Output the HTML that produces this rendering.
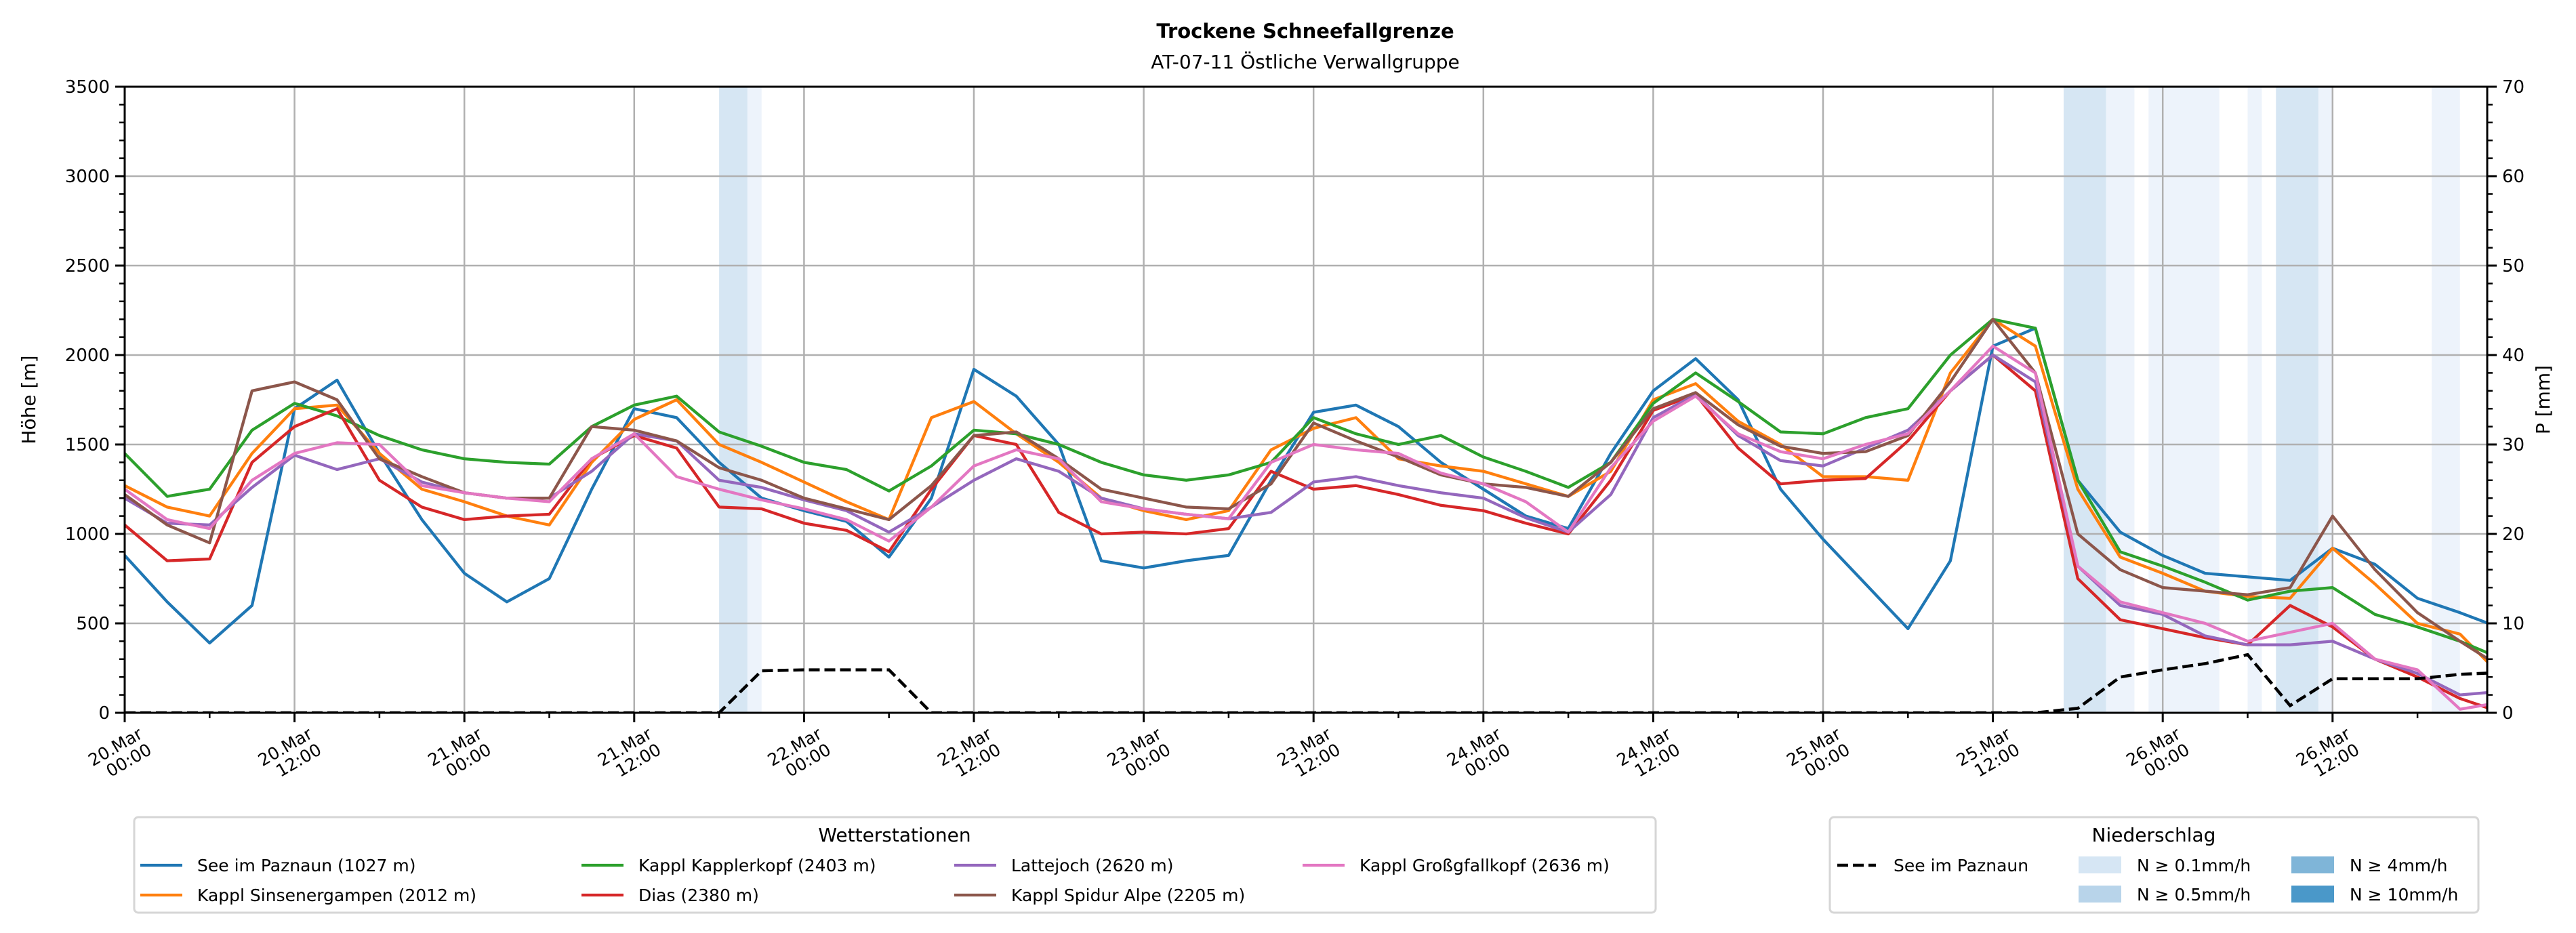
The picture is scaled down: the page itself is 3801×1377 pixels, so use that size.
<!DOCTYPE html>
<html><head><meta charset="utf-8">
<style>
html,body{margin:0;padding:0;background:#fff;}
svg{display:block;font-family:"DejaVu Sans","Liberation Sans",sans-serif;}
</style></head>
<body>
<svg id="chart" xmlns="http://www.w3.org/2000/svg" width="3801" height="1377" viewBox="0 0 3801 1377">
<rect width="3801" height="1377" fill="#fff"/>
<text x="1926" y="56" text-anchor="middle" font-size="29" font-weight="bold">Trockene Schneefallgrenze</text>
<text x="1926" y="101" text-anchor="middle" font-size="28">AT-07-11 Östliche Verwallgruppe</text>
<defs><clipPath id="plotclip"><rect x="184" y="128" width="3486" height="924"/></clipPath></defs>
<g id="bands" clip-path="url(#plotclip)"></g>
<g id="grid"></g>
<g id="series" clip-path="url(#plotclip)"></g>
<g id="axes"></g>
<text transform="translate(52,590) rotate(-90)" text-anchor="middle" font-size="28">Höhe [m]</text>
<text transform="translate(3762,590) rotate(-90)" text-anchor="middle" font-size="28">P [mm]</text>
<g>
<rect x="198" y="1206" width="2245" height="141" rx="6" fill="#fff" stroke="#d6d6d6" stroke-width="3"/>
<text x="1320" y="1242" text-anchor="middle" font-size="28">Wetterstationen</text>
<g id="leg1"></g>
</g>
<g>
<rect x="2700" y="1206" width="957" height="141" rx="6" fill="#fff" stroke="#d6d6d6" stroke-width="3"/>
<text x="3178" y="1242" text-anchor="middle" font-size="28">Niederschlag</text>
<line x1="2711" y1="1277" x2="2768" y2="1277" stroke="#000" stroke-width="4.5" stroke-dasharray="16,7"/>
<text x="2794" y="1286" font-size="25">See im Paznaun</text>
<rect x="3067" y="1264" width="63" height="25" fill="#d6e6f4"/>
<text x="3153" y="1286" font-size="25">N ≥ 0.1mm/h</text>
<rect x="3067" y="1307" width="63" height="25" fill="#b8d4ea"/>
<text x="3153" y="1329" font-size="25">N ≥ 0.5mm/h</text>
<rect x="3381" y="1264" width="63" height="25" fill="#7fb5d8"/>
<text x="3467" y="1286" font-size="25">N ≥ 4mm/h</text>
<rect x="3381" y="1307" width="63" height="25" fill="#4a98c9"/>
<text x="3467" y="1329" font-size="25">N ≥ 10mm/h</text>
</g>
</svg>
<script>
// data: 3-hourly values starting 20.Mar 00:00
const stepHours = 3;
const seeImPaznaun = [880,620,390,600,1700,1860,1450,1080,780,620,750,1250,1700,1650,1400,1200,1130,1070,870,1200,1920,1770,1500,850,810,850,880,1300,1680,1720,1600,1400,1250,1100,1030,1450,1800,1980,1750,1250,970,720,470,850,2050,2150,1300,1010,880,780,760,740,920,830,640,560,470];
const sinsenergampen = [1270,1150,1100,1450,1700,1720,1450,1250,1180,1100,1050,1400,1640,1750,1500,1400,1290,1180,1080,1650,1740,1560,1400,1200,1130,1080,1130,1470,1590,1650,1420,1380,1350,1280,1210,1350,1750,1840,1630,1500,1320,1320,1300,1900,2200,2050,1250,870,780,680,650,640,920,720,500,440,200];
const kapplerkopf = [1450,1210,1250,1580,1730,1660,1550,1470,1420,1400,1390,1600,1720,1770,1570,1490,1400,1360,1240,1380,1580,1560,1500,1400,1330,1300,1330,1400,1650,1560,1500,1550,1430,1350,1260,1400,1730,1900,1740,1570,1560,1650,1700,2000,2200,2150,1300,900,820,730,630,680,700,550,480,400,300];
const dias = [1050,850,860,1400,1600,1700,1300,1150,1080,1100,1110,1420,1550,1480,1150,1140,1060,1020,900,1250,1550,1500,1120,1000,1010,1000,1030,1350,1250,1270,1220,1160,1130,1060,1000,1300,1690,1780,1480,1280,1300,1310,1520,1800,2000,1800,750,520,470,420,380,600,480,300,200,80,0];
const lattejoch = [1200,1060,1050,1260,1440,1360,1420,1290,1230,1200,1200,1350,1560,1520,1300,1260,1190,1130,1010,1150,1300,1420,1350,1200,1140,1110,1085,1120,1290,1320,1270,1230,1200,1090,1010,1220,1650,1780,1550,1410,1380,1480,1580,1800,2000,1850,820,600,550,430,380,380,400,300,220,100,120];
const spidurAlpe = [1220,1050,950,1800,1850,1750,1420,1320,1230,1200,1200,1600,1580,1520,1370,1300,1200,1140,1080,1270,1550,1570,1420,1250,1200,1150,1140,1280,1620,1520,1430,1330,1280,1260,1210,1400,1700,1790,1610,1490,1450,1460,1550,1850,2200,1900,1000,800,700,680,660,700,1100,800,560,400,250];
const grossgfallkopf = [1250,1080,1030,1300,1450,1510,1500,1270,1230,1200,1180,1420,1560,1320,1250,1190,1140,1080,960,1150,1380,1470,1420,1180,1140,1110,1085,1400,1500,1470,1450,1340,1280,1180,1010,1370,1630,1770,1560,1460,1420,1500,1560,1800,2050,1900,820,620,560,500,400,450,500,300,240,20,60];
const precipSum = [0,0,0,0,0,0,0,0,0,0,0,0,0,0,0,4.7,4.8,4.8,4.8,0,0,0,0,0,0,0,0,0,0,0,0,0,0,0,0,0,0,0,0,0,0,0,0,0,0,0,0.5,4.0,4.8,5.5,6.5,0.8,3.8,3.8,3.8,4.3,4.5];
// precipitation bands: start hour, end hour, intensity class (0: >=0.1, 1: >=0.5)
const bandStart = [42,44,137,140,143,150,152,155,163];
const bandEnd   = [44,45,140,142,148,151,155,156,165];
const bandLevel = [1,0,1,0,0,0,1,0,0];
const yTicks = [0,500,1000,1500,2000,2500,3000,3500];
const y2Ticks = [0,10,20,30,40,50,60,70];
const xTickDays = ["20.Mar","20.Mar","21.Mar","21.Mar","22.Mar","22.Mar","23.Mar","23.Mar","24.Mar","24.Mar","25.Mar","25.Mar","26.Mar","26.Mar"];
const xTickTimes = ["00:00","12:00","00:00","12:00","00:00","12:00","00:00","12:00","00:00","12:00","00:00","12:00","00:00","12:00"];

const NS="http://www.w3.org/2000/svg";
const L=184,R=3670,T=128,B=1052;
const pxPerHour=250.6/12;
function xs(h){return L+h*pxPerHour;}
function ys(v){return B-(v/3500)*(B-T);}
function ys2(v){return B-(v/70)*(B-T);}
function mk(tag,attrs,parent){const e=document.createElementNS(NS,tag);for(const k in attrs)e.setAttribute(k,attrs[k]);parent.appendChild(e);return e;}

const bandsG=document.getElementById('bands');
const bandColors=["#edf3fb","#d6e6f3"];
bandStart.forEach((s,i)=>{
  const r=mk('rect',{x:xs(s),y:T,width:xs(bandEnd[i])-xs(s),height:B-T,fill:bandColors[bandLevel[i]]},bandsG);
  
  
});

const grid=document.getElementById('grid');
xTickDays.forEach((d,i)=>{
  const x=xs(i*12);
  const g=mk('line',{x1:x,y1:T,x2:x,y2:B,stroke:"#b0b0b0","stroke-width":2.5},grid);
  
  
});
yTicks.forEach(v=>{
  const y=ys(v);
  const g=mk('line',{x1:L,y1:y,x2:R,y2:y,stroke:"#b0b0b0","stroke-width":2.5},grid);
  
  
});

const series=document.getElementById('series');
const sets=[[seeImPaznaun,"#1f77b4","see-im-paznaun-line"],[sinsenergampen,"#ff7f0e","sinsenergampen-line"],[kapplerkopf,"#2ca02c","kapplerkopf-line"],[dias,"#d62728","dias-line"],[lattejoch,"#9467bd","lattejoch-line"],[spidurAlpe,"#8c564b","spidur-alpe-line"],[grossgfallkopf,"#e377c2","grossgfallkopf-line"]];
sets.forEach(s=>{
  const pts=s[0].map((v,i)=>xs(i*stepHours).toFixed(1)+","+ys(v).toFixed(1)).join(" ");
  const p=mk('polyline',{points:pts,fill:"none",stroke:s[1],"stroke-width":4.3,"stroke-linejoin":"round"},series);
  
  
});
const pp=precipSum.map((v,i)=>xs(i*stepHours).toFixed(1)+","+ys2(v).toFixed(1)).join(" ");
const pl=mk('polyline',{points:pp,fill:"none",stroke:"#000","stroke-width":4.5,"stroke-dasharray":"16,7"},series);



const axes=document.getElementById('axes');
mk('rect',{x:L,y:T,width:R-L,height:B-T,fill:"none",stroke:"#000","stroke-width":3},axes);
for(let v=0;v<=3500;v+=100){
  const y=ys(v),major=v%500===0;
  mk('line',{x1:L,y1:y,x2:L-(major?14:8),y2:y,stroke:"#000","stroke-width":major?3:2.5},axes);
}
yTicks.forEach(v=>{
  const t=mk('text',{x:L-22,y:ys(v)+9,"text-anchor":"end","font-size":26},axes);t.textContent=v;
  
  
});
for(let v=0;v<=70;v+=2){
  const y=ys2(v),major=v%10===0;
  mk('line',{x1:R,y1:y,x2:R+(major?14:8),y2:y,stroke:"#000","stroke-width":major?3:2.5},axes);
}
y2Ticks.forEach(v=>{
  const t=mk('text',{x:R+22,y:ys2(v)+9,"font-size":26},axes);t.textContent=v;
  
  
});
for(let h=0;h<=166;h+=6){
  const major=h%12===0;
  mk('line',{x1:xs(h),y1:B,x2:xs(h),y2:B+(major?14:8),stroke:"#000","stroke-width":major?3:2.5},axes);
}
xTickDays.forEach((d,i)=>{
  const x=xs(i*12);
  const t=mk('text',{transform:`translate(${x+28},${B+36}) rotate(-30)`,"text-anchor":"end","font-size":25},axes);
  
  
  const a=mk('tspan',{x:0,y:0},t);a.textContent=d;
  const b=mk('tspan',{x:0,y:27},t);b.textContent=xTickTimes[i];
});

const leg=document.getElementById('leg1');
const legNames=["See im Paznaun (1027 m)","Kappl Sinsenergampen (2012 m)","Kappl Kapplerkopf (2403 m)","Dias (2380 m)","Lattejoch (2620 m)","Kappl Spidur Alpe (2205 m)","Kappl Großgfallkopf (2636 m)"];
const colX=[207,858,1408,1922];
legNames.forEach((n,i)=>{
  const col=Math.floor(i/2),row=i%2;
  const y=row?1321:1277;
  const g=mk('g',{},leg);
  
  
  mk('line',{x1:colX[col],y1:y,x2:colX[col]+62,y2:y,stroke:sets[i][1],"stroke-width":4.3},g);
  const t=mk('text',{x:colX[col]+84,y:y+9,"font-size":25},g);t.textContent=n;
});
</script>
</body></html>
